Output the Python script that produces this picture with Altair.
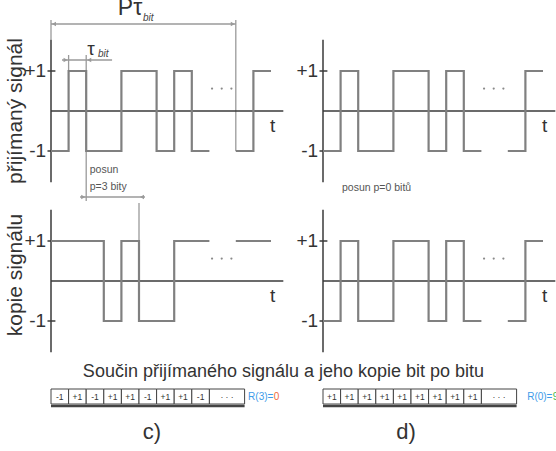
import altair as alt
import pandas as pd

# ---------------- data ----------------
received_bits = [-1, 1, -1, -1, 1, 1, -1, 1, -1]
received_tail = [-1, 1]
copy_p3_bits = [1, 1, 1, -1, 1, -1, -1, 1, 1]
copy_p3_tail = [1, 1]
product_p3 = ["-1", "+1", "-1", "+1", "+1", "-1", "+1", "+1", "-1"]
product_p0 = ["+1", "+1", "+1", "+1", "+1", "+1", "+1", "+1", "+1"]
row_titles = ["přijímaný signál", "kopie signálu"]
level_labels = ["+1", "-1"]
level_values = [1, -1]
panel_labels = ["c)", "d)"]
r_labels = ["R(3)=", "R(0)="]
r_values = ["0", "9"]
r_value_colors = ["#f26a3a", "#3fba4f"]
title_text = "Součin přijímaného signálu a jeho kopie bit po bitu"
shift_texts = ["posun", "p=3 bity"]
shift0_text = "posun p=0 bitů"

# ---------------- layout (data units: bits / amplitude) ----------------
W, H = 556, 451
BIT_PX, AMP_PX = 17.6, 40.0
X0_PX, Y0_PX = 51, 111
XMIN = -X0_PX / BIT_PX
XMAX = (W - X0_PX) / BIT_PX
YMAX = Y0_PX / AMP_PX
YMIN = (Y0_PX - H) / AMP_PX
DX = 272 / BIT_PX      # right column offset
DY = -170 / AMP_PX     # bottom row offset
P = 10.5               # position of the tail (P bits)
AX = 1.78              # half-height of vertical axis
ZERO_END = 13.2

xs = alt.Scale(domain=[XMIN, XMAX], nice=False, zero=False)
ys = alt.Scale(domain=[YMIN, YMAX], nice=False, zero=False)
FONT = "Liberation Sans"


def X(f="x"):
    return alt.X(f"{f}:Q", scale=xs, axis=None)


def Y(f="y"):
    return alt.Y(f"{f}:Q", scale=ys, axis=None)


panels = [
    (0.0, 0.0, received_bits, received_tail),
    (0.0, DY, copy_p3_bits, copy_p3_tail),
    (DX, 0.0, received_bits, received_tail),
    (DX, DY, received_bits, received_tail),
]

# signals
sig_rows = []
for pi, (cx, ry, bits, tail) in enumerate(panels):
    for si, (start, seq) in enumerate([(0, bits), (P, tail)]):
        pts = list(enumerate(seq)) + [(len(seq), seq[-1])]
        for k, v in pts:
            sig_rows.append(dict(x=cx + start + k, y=ry + v, g=f"{pi}-{si}", o=k))
signals = alt.Chart(pd.DataFrame(sig_rows)).mark_line(
    interpolate="step-after", color="#808080", strokeWidth=2.2
).encode(x=X(), y=Y(), detail="g:N", order="o:Q")

# axes
ax_rows = []
for cx, ry, _, _ in panels:
    ax_rows.append(dict(x=cx, x2=cx, y=ry + AX, y2=ry - AX))
    ax_rows.append(dict(x=cx, x2=cx + ZERO_END, y=ry, y2=ry))
    for v in level_values:
        ax_rows.append(dict(x=cx - 0.2, x2=cx + 0.25, y=ry + v, y2=ry + v))
axes = alt.Chart(pd.DataFrame(ax_rows)).mark_rule(color="#3a3a3a", strokeWidth=1.5).encode(
    x=X(), x2="x2:Q", y=Y(), y2="y2:Q")

# annotation lines (top-left panel)
an_rows = [
    dict(x=0, x2=P, y=2.175, y2=2.175),
    dict(x=0, x2=0, y=AX, y2=2.275),
    dict(x=P, x2=P, y=-1, y2=2.275),
    dict(x=0.625, x2=3.47, y=1.275, y2=1.275),
    dict(x=1, x2=1, y=1.0, y2=1.4),
    dict(x=2, x2=2, y=1.4, y2=-2.25),
    dict(x=1.65, x2=5.34, y=-2.15, y2=-2.15),
    dict(x=5, x2=5, y=-2.3, y2=DY + 1),
]
annot = alt.Chart(pd.DataFrame(an_rows)).mark_rule(color="#9a9a9a", strokeWidth=1.3).encode(
    x=X(), x2="x2:Q", y=Y(), y2="y2:Q")

arrow_rows = [
    dict(x=0.17, y=2.175, s="triangle-left"), dict(x=P - 0.17, y=2.175, s="triangle-right"),
    dict(x=0.83, y=1.275, s="triangle-right"), dict(x=2.17, y=1.275, s="triangle-left"),
    dict(x=1.83, y=-2.15, s="triangle-right"), dict(x=5.17, y=-2.15, s="triangle-left"),
]
arrows = alt.Chart(pd.DataFrame(arrow_rows)).mark_point(
    filled=True, color="#9a9a9a", size=22, opacity=1).encode(
    x=X(), y=Y(), shape=alt.Shape("s:N", scale=None))

# ellipsis dots
dot_rows = []
for cx, ry, _, _ in panels:
    for t in [9.15, 9.7, 10.25]:
        dot_rows.append(dict(x=cx + t, y=ry + 0.56))
dots = alt.Chart(pd.DataFrame(dot_rows)).mark_circle(color="#8a8a8a", size=5, opacity=1).encode(
    x=X(), y=Y())

# level labels and "t"
lvl_rows = []
t_rows = []
for cx, ry, _, _ in panels:
    for lab, v in zip(level_labels, level_values):
        lvl_rows.append(dict(x=cx - 0.28, y=ry + v, text=lab))
    t_rows.append(dict(x=cx + 12.6, y=ry - 0.37, text="t"))
lvl = alt.Chart(pd.DataFrame(lvl_rows)).mark_text(
    font=FONT, fontSize=19, align="right", baseline="middle", color="#333").encode(
    x=X(), y=Y(), text="text:N")
tlab = alt.Chart(pd.DataFrame(t_rows)).mark_text(
    font=FONT, fontSize=19, align="center", baseline="middle", color="#333").encode(
    x=X(), y=Y(), text="text:N")

# row titles
rt = alt.Chart(pd.DataFrame([
    dict(x=-1.99, y=0.0, text=row_titles[0]),
    dict(x=-1.99, y=DY + 0.15, text=row_titles[1]),
])).mark_text(font=FONT, fontSize=21, angle=270, align="center", baseline="middle",
              color="#333").encode(x=X(), y=Y(), text="text:N")

# tau labels
tau = alt.Chart(pd.DataFrame([
    dict(x=4.49, y=2.4, text="Pτ", fs=23),
    dict(x=2.27, y=1.4, text="τ", fs=19),
])).mark_text(font=FONT, align="center", baseline="alphabetic", color="#333").encode(
    x=X(), y=Y(), text="text:N", size=alt.Size("fs:Q", scale=None))
sub = alt.Chart(pd.DataFrame([
    dict(x=5.23, y=2.26, text="bit"),
    dict(x=2.67, y=1.35, text="bit"),
])).mark_text(font=FONT, fontSize=10, fontStyle="italic", align="left", baseline="alphabetic",
              color="#444").encode(x=X(), y=Y(), text="text:N")

# small annotation texts
small = alt.Chart(pd.DataFrame([
    dict(x=2.2, y=-1.475, text=shift_texts[0]),
    dict(x=2.2, y=-1.9, text=shift_texts[1]),
    dict(x=DX + 1.08, y=-1.925, text=shift0_text),
])).mark_text(font=FONT, fontSize=10.5, align="left", baseline="middle", color="#555").encode(
    x=X(), y=Y(), text="text:N")

# bottom title
btitle = alt.Chart(pd.DataFrame([dict(x=13.21, y=-6.525, text=title_text)])).mark_text(
    font=FONT, fontSize=18, align="center", baseline="middle", color="#333").encode(
    x=X(), y=Y(), text="text:N")

# product cells
BOX_TOP, BOX_BOT = -6.95, -7.325
cell_rows, cell_txt = [], []
for cx, prod in [(0.0, product_p3), (DX, product_p0)]:
    for k, lab in enumerate(prod):
        cell_rows.append(dict(x=cx + k, x2=cx + k + 1, y=BOX_TOP, y2=BOX_BOT))
        cell_txt.append(dict(x=cx + k + 0.5, y=(BOX_TOP + BOX_BOT) / 2, text=lab))
    cell_rows.append(dict(x=cx + 9, x2=cx + 11, y=BOX_TOP, y2=BOX_BOT))
    cell_txt.append(dict(x=cx + 10, y=(BOX_TOP + BOX_BOT) / 2, text="· · ·"))
cells = alt.Chart(pd.DataFrame(cell_rows)).mark_rect(
    fill="white", stroke="#444", strokeWidth=1).encode(x=X(), x2="x2:Q", y=Y(), y2="y2:Q")
celltext = alt.Chart(pd.DataFrame(cell_txt)).mark_text(
    font=FONT, fontSize=8.5, align="center", baseline="middle", color="#333").encode(
    x=X(), y=Y(), text="text:N")
shadow = alt.Chart(pd.DataFrame([
    dict(x=0.0, x2=11.0, y=BOX_BOT - 0.05, y2=BOX_BOT - 0.05),
    dict(x=DX, x2=DX + 11.0, y=BOX_BOT - 0.05, y2=BOX_BOT - 0.05),
])).mark_rule(color="#444", strokeWidth=2.5).encode(x=X(), x2="x2:Q", y=Y(), y2="y2:Q")

# R labels
R_X = [11.2, DX + 11.6]
rl = alt.Chart(pd.DataFrame([
    dict(x=R_X[0], y=-7.15, text=r_labels[0]),
    dict(x=R_X[1], y=-7.15, text=r_labels[1]),
])).mark_text(font=FONT, fontSize=10, align="left", baseline="middle", color="#3d9be9").encode(
    x=X(), y=Y(), text="text:N")
rv = alt.Chart(pd.DataFrame([
    dict(x=R_X[0] + 1.45, y=-7.15, text=r_values[0], c=r_value_colors[0]),
    dict(x=R_X[1] + 1.45, y=-7.15, text=r_values[1], c=r_value_colors[1]),
])).mark_text(font=FONT, fontSize=10, align="left", baseline="middle").encode(
    x=X(), y=Y(), text="text:N", color=alt.Color("c:N", scale=None))

# panel labels
pl = alt.Chart(pd.DataFrame([
    dict(x=5.74, y=-8.025, text=panel_labels[0]),
    dict(x=DX + 4.72, y=-8.025, text=panel_labels[1]),
])).mark_text(font=FONT, fontSize=22, align="center", baseline="middle", color="#333").encode(
    x=X(), y=Y(), text="text:N")

chart = alt.layer(
    annot, arrows, axes, signals, dots, lvl, tlab, rt, tau, sub, small, btitle,
    cells, shadow, celltext, rl, rv, pl
).properties(
    width=W, height=H, autosize=alt.AutoSizeParams(type="none"), padding=0,
    background="white"
).configure_view(stroke=None)

chart.save("out.html", embed_options={"renderer": "svg", "actions": False})
